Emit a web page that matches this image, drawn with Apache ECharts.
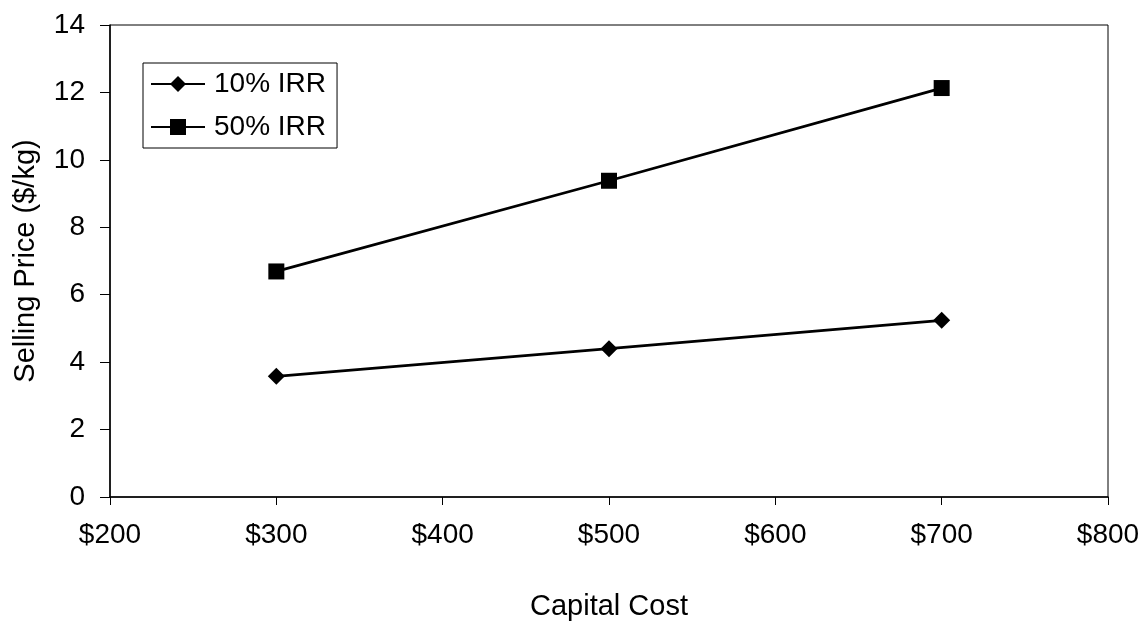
<!DOCTYPE html>
<html>
<head>
<meta charset="utf-8">
<script src="https://cdn.jsdelivr.net/npm/echarts@6/dist/echarts.min.js"></script>
<style>
  html, body { margin: 0; padding: 0; background: #fff; }
  #chart { width: 1144px; height: 626px; }
</style>
</head>
<body>
<div id="chart"></div>
<script>
// Capital cost per unit ($) vs. required selling price ($/kg)
const capitalCost = [300, 500, 700];
const irr10 = [3.58, 4.4, 5.24];
const irr50 = [6.69, 9.38, 12.13];
const seriesNames = ['10% IRR', '50% IRR'];

const font = 'Arial, "Liberation Sans", sans-serif';

const chart = echarts.init(document.getElementById('chart'), null, { renderer: 'canvas' });

function pairs(xs, ys) {
  return xs.map((x, i) => [x, ys[i]]);
}

chart.setOption({
  animation: false,
  backgroundColor: '#fff',
  grid: {
    left: 110, right: 36, top: 25, bottom: 124,
    show: true, borderColor: '#000', borderWidth: 1, backgroundColor: 'transparent'
  },
  legend: {
    left: 143, top: 63,
    orient: 'vertical',
    data: seriesNames,
    itemWidth: 54, itemHeight: 20, itemGap: 11,
    padding: [5, 11, 5, 7],
    borderColor: '#000', borderWidth: 1,
    backgroundColor: '#fff',
    textStyle: { fontFamily: font, fontSize: 28, color: '#000', lineHeight: 32, padding: [0, 0, 0, 4] }
  },
  xAxis: {
    type: 'value',
    min: 200, max: 800, interval: 100,
    name: 'Capital Cost',
    nameLocation: 'middle', nameGap: 95,
    nameTextStyle: { fontFamily: font, fontSize: 29, color: '#000' },
    axisLine: { lineStyle: { color: '#000', width: 1.5 } },
    axisTick: { show: true, inside: false, length: 8, lineStyle: { color: '#000' } },
    axisLabel: { fontFamily: font, fontSize: 28, color: '#000', margin: 24, formatter: v => '$' + v },
    splitLine: { show: false }
  },
  yAxis: {
    type: 'value',
    min: 0, max: 14, interval: 2,
    name: 'Selling Price ($/kg)',
    nameLocation: 'middle', nameGap: 70, nameRotate: 90,
    nameTextStyle: { fontFamily: font, fontSize: 29, color: '#000' },
    axisLine: { show: true, lineStyle: { color: '#000', width: 1.5 } },
    axisTick: { show: true, inside: false, length: 10, lineStyle: { color: '#000' } },
    axisLabel: { fontFamily: font, fontSize: 28, color: '#000', margin: 25 },
    splitLine: { show: false }
  },
  series: [
    {
      name: seriesNames[0], type: 'line',
      data: pairs(capitalCost, irr10),
      symbol: 'diamond', symbolSize: 17,
      lineStyle: { color: '#000', width: 2.8 },
      itemStyle: { color: '#000' }
    },
    {
      name: seriesNames[1], type: 'line',
      data: pairs(capitalCost, irr50),
      symbol: 'rect', symbolSize: 16,
      lineStyle: { color: '#000', width: 2.8 },
      itemStyle: { color: '#000' }
    }
  ]
});
</script>
</body>
</html>
